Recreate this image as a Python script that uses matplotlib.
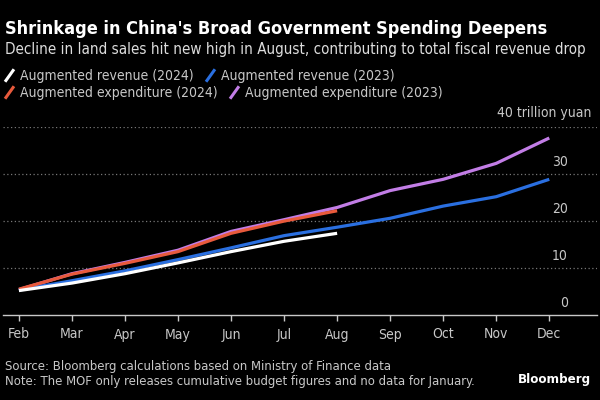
import matplotlib
matplotlib.use("Agg")
import matplotlib.pyplot as plt
from matplotlib.lines import Line2D

plt.rcParams['font.family'] = ['DejaVu Sans']
plt.rcParams['font.stretch'] = 'condensed'

months = ['Feb', 'Mar', 'Apr', 'May', 'Jun', 'Jul', 'Aug', 'Sep', 'Oct', 'Nov', 'Dec']
rev_2024 = [5.2, 6.8, 8.8, 11.1, 13.5, 15.7, 17.4]
rev_2023 = [5.3, 7.3, 9.4, 11.8, 14.3, 16.9, 18.7, 20.6, 23.2, 25.2, 28.9]
exp_2024 = [5.5, 8.7, 11.0, 13.5, 17.4, 20.0, 22.2]
exp_2023 = [5.4, 8.8, 11.2, 13.8, 17.8, 20.3, 22.9, 26.5, 28.9, 32.3, 37.7]
y_ticks = [0, 10, 20, 30, 40]

WHITE = '#ffffff'
BLUE = '#2a6fe0'
ORANGE = '#e85a3c'
PURPLE = '#c27de6'
GREY = '#c8c8c8'

fig = plt.figure(figsize=(6, 4), dpi=100, facecolor='black')
ax = fig.add_axes([0.005, 0.2125, 0.99, 0.4695], facecolor='black')

x_all = list(range(len(months)))
ax.plot(x_all, exp_2023, color=PURPLE, lw=2.3, solid_capstyle='butt')
ax.plot(x_all, rev_2023, color=BLUE, lw=2.3, solid_capstyle='butt')
ax.plot(x_all[:len(exp_2024)], exp_2024, color=ORANGE, lw=2.3, solid_capstyle='butt')
ax.plot(x_all[:len(rev_2024)], rev_2024, color=WHITE, lw=2.3, solid_capstyle='butt')

ax.set_xlim(-0.30, 10.9)
ax.set_ylim(0, 40)

for v in y_ticks[1:]:
    ax.axhline(v, color='#777777', lw=0.9, ls=(0, (1, 2)), zorder=0)
for v in y_ticks[:-1]:
    ax.annotate(str(v), xy=(1, v), xycoords=('axes fraction', 'data'),
                xytext=(-21, 3.5), textcoords='offset points', ha='right', va='bottom',
                color=GREY, fontsize=10)
ax.annotate('%d trillion yuan' % y_ticks[-1], xy=(1, y_ticks[-1]),
            xycoords=('axes fraction', 'data'), xytext=(-4, 5),
            textcoords='offset points', ha='right', va='bottom', color=GREY, fontsize=10)

for s in ['top', 'right', 'left']:
    ax.spines[s].set_visible(False)
ax.spines['bottom'].set_color(GREY)
ax.spines['bottom'].set_linewidth(1.0)
ax.set_yticks([])
ax.set_xticks(x_all)
ax.set_xticklabels(months)
ax.tick_params(axis='x', colors=GREY, length=4, width=1, labelsize=10, pad=5)

fig.text(0.008, 0.927, "Shrinkage in China's Broad Government Spending Deepens",
         color='white', fontsize=13, fontweight='bold', va='center')
fig.text(0.008, 0.877,
         "Decline in land sales hit new high in August, contributing to total fiscal revenue drop",
         color='#dddddd', fontsize=10.9, va='center')


def slash(c):
    return Line2D([], [], ls='none', marker=[(-1, -1.4), (1, 1.4)], ms=9,
                  mew=2.2, color=c)


leg_kw = dict(frameon=False, ncol=2, fontsize=10, labelcolor=GREY, handlelength=0.8,
              handletextpad=0.4, columnspacing=0.8, borderaxespad=0, borderpad=0)
leg1 = fig.legend([slash(WHITE), slash(BLUE)],
                  ['Augmented revenue (2024)', 'Augmented revenue (2023)'],
                  loc='center left', bbox_to_anchor=(0.005, 0.811), **leg_kw)
leg2 = fig.legend([slash(ORANGE), slash(PURPLE)],
                  ['Augmented expenditure (2024)', 'Augmented expenditure (2023)'],
                  loc='center left', bbox_to_anchor=(0.005, 0.768), **leg_kw)

fig.text(0.008, 0.083, 'Source: Bloomberg calculations based on Ministry of Finance data',
         color=GREY, fontsize=9.35, va='center')
fig.text(0.008, 0.045,
         'Note: The MOF only releases cumulative budget figures and no data for January.',
         color=GREY, fontsize=9.35, va='center')
fig.text(0.985, 0.052, 'Bloomberg', color='white', fontsize=9.5, fontweight='bold',
         ha='right', va='center')

fig.savefig('out.png', dpi=100, facecolor='black')
